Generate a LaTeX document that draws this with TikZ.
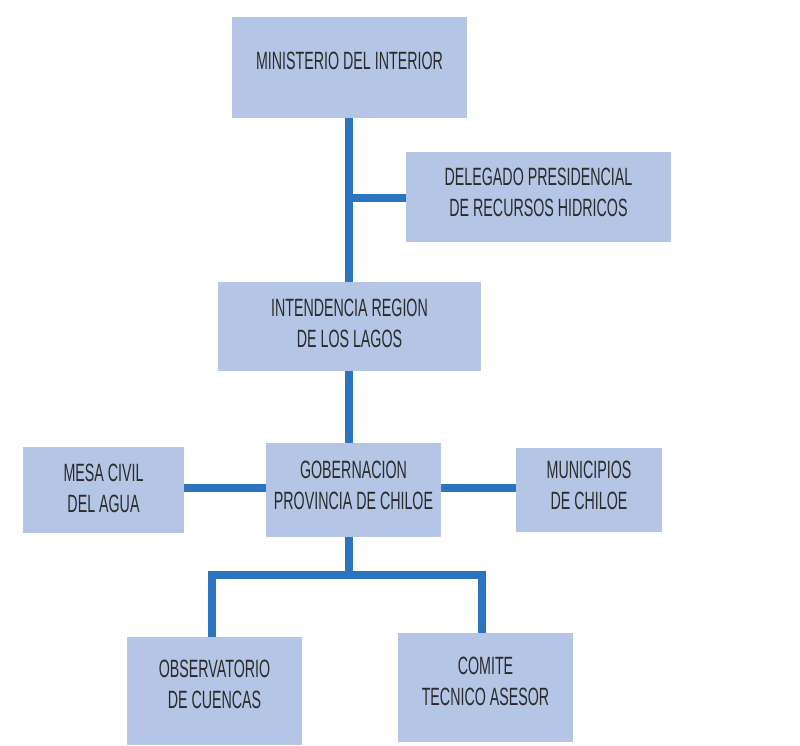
\documentclass[tikz,border=0pt]{standalone}
\usepackage{fontspec}
\setmainfont[FakeStretch=0.57]{Liberation Sans}
\definecolor{boxfill}{HTML}{B4C5E5}
\definecolor{linkblue}{HTML}{2A75BD}
\definecolor{txt}{HTML}{2B2B2B}
\newcommand\orgtext[2]{\raisebox{#1}[\height][\depth]{\begin{tabular}{@{}c@{}}#2\end{tabular}}}
\begin{document}
\begin{tikzpicture}[x=1pt,y=-1pt,
  orgbox/.style={fill=boxfill, draw=none, inner sep=0pt, align=center,
    text=txt, font=\fontsize{25}{31}\selectfont},
  link/.style={draw=linkblue, line width=7.5pt}]
\useasboundingbox[fill=white] (0,0) rectangle (800,745);
% boxes (centre, size)
\node[orgbox, minimum width=235pt, minimum height=101pt] (min) at (349.5,67.5) {\orgtext{4pt}{MINISTERIO DEL INTERIOR}};
\node[orgbox, minimum width=265pt, minimum height=90pt] (del) at (538.5,197) {\orgtext{2pt}{DELEGADO PRESIDENCIAL\\DE RECURSOS HIDRICOS}};
\node[orgbox, minimum width=263pt, minimum height=89pt] (int) at (349.5,326.5) {\orgtext{1pt}{INTENDENCIA REGION\\DE LOS LAGOS}};
\node[orgbox, minimum width=161pt, minimum height=86pt] (mesa) at (103.5,490) {\orgtext{-1pt}{MESA CIVIL\\DEL AGUA}};
\node[orgbox, minimum width=175pt, minimum height=94pt] (gob) at (353.5,490) {\orgtext{2pt}{GOBERNACION\\PROVINCIA DE CHILOE}};
\node[orgbox, minimum width=146pt, minimum height=84pt] (mun) at (589,490) {\orgtext{2pt}{MUNICIPIOS\\DE CHILOE}};
\node[orgbox, minimum width=175pt, minimum height=108pt] (obs) at (214.5,691) {\orgtext{4pt}{OBSERVATORIO\\DE CUENCAS}};
\node[orgbox, minimum width=175pt, minimum height=109pt] (com) at (485.5,687.5) {\orgtext{4pt}{COMITE\\TECNICO ASESOR}};
% junction coordinates
\coordinate (jd) at (349,198);
\coordinate (j) at (349,575);
\coordinate (jl) at (212,575);
\coordinate (jr) at (482,575);
% connectors
\draw[link] (min.south -| jd) -- (int.north -| jd);
\draw[link] (jd) -- (del.west |- jd);
\draw[link] (int.south -| jd) -- (gob.north -| jd);
\draw[link] (mesa.east |- 0,488) -- (gob.west |- 0,488);
\draw[link] (gob.east |- 0,488) -- (mun.west |- 0,488);
\draw[link] (gob.south -| j) -- (j);
\draw[link] (obs.north -| jl) -- (jl) -- (jr) -- (com.north -| jr);
\end{tikzpicture}
\end{document}
